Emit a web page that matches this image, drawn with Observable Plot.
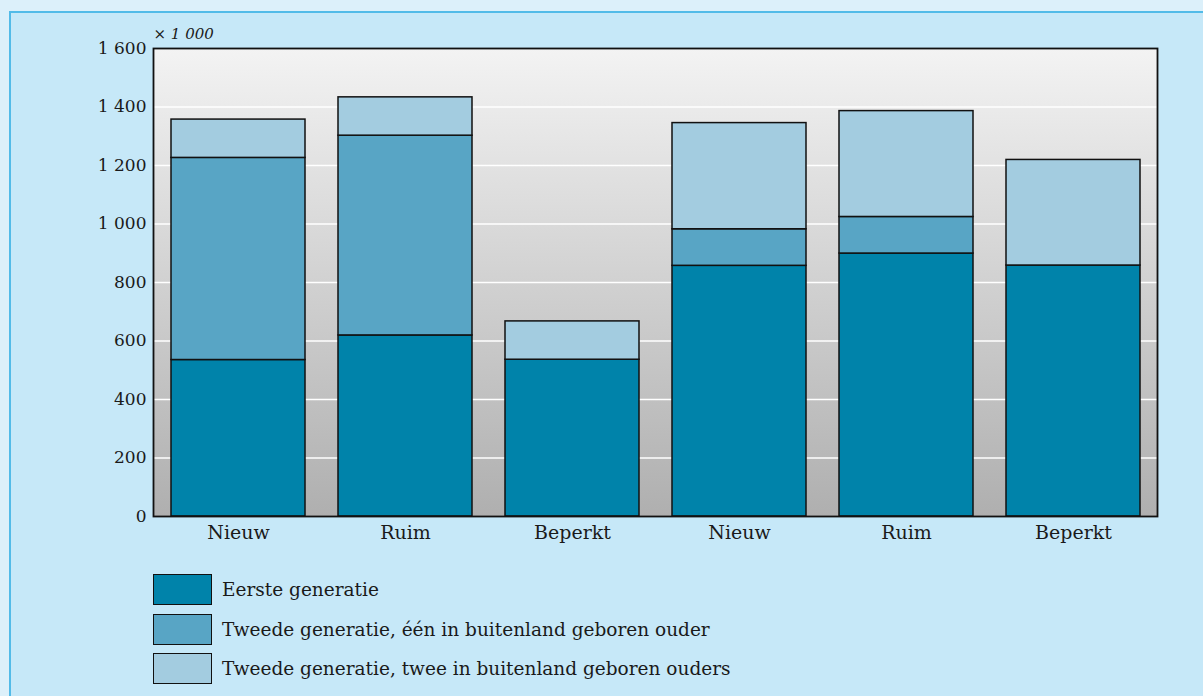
<!DOCTYPE html>
<html><head><meta charset="utf-8">
<script src="https://cdn.jsdelivr.net/npm/d3@7"></script>
<script src="https://cdn.jsdelivr.net/npm/@observablehq/plot@0.6"></script>
<style>
body{margin:0;background:#dcf0fa;width:1203px;height:696px;overflow:hidden;position:relative;font-family:"DejaVu Serif",serif;}
#box{position:absolute;left:9px;top:11px;width:1300px;height:800px;border:2px solid #52bbe8;background:#c6e8f8;}
#chart{position:absolute;left:0;top:0;}
#legend{position:absolute;left:153px;top:574px;}
.row{display:flex;align-items:center;height:31px;margin-bottom:8.5px;}
.sw{box-sizing:border-box;width:59px;height:31px;border:1.5px solid #111;margin-right:10px;}
.lab{font-size:18.5px;color:#1a1a1a;}
</style></head><body>
<div id="box"></div><div id="chart"></div><div id="legend"></div>
<script>
const categories = ["Nieuw","Ruim","Beperkt","Nieuw","Ruim","Beperkt"];
const series = ["Eerste generatie","Tweede generatie, één in buitenland geboren ouder","Tweede generatie, twee in buitenland geboren ouders"];
const eerste = [535, 619, 536, 857, 899, 858];
const tweedeEen = [691, 683, 0, 125, 125, 0];
const tweedeTwee = [131, 131, 131, 363, 362, 361];
const colors = ["#0083aa", "#58a5c5", "#a3cce0"];
const yTicks = [0, 200, 400, 600, 800, 1000, 1200, 1400, 1600];
const unitLabel = "× 1 000";

const rows = [];
[eerste, tweedeEen, tweedeTwee].forEach((vals, s) => vals.forEach((v, i) => {
  if (v > 0) rows.push({i, serie: series[s], v});
}));
const fmt = d => d3.format(",")(d).replace(/,/g, " ");

const svg = Plot.plot({
  width: 1203, height: 550,
  marginLeft: 153, marginRight: 46, marginTop: 48, marginBottom: 34,
  style: {background: "transparent", fontFamily: "'DejaVu Serif', serif", fontSize: "17px", color: "#1a1a1a"},
  x: {domain: d3.range(6), paddingInner: 0.2, paddingOuter: 0.1, axis: null},
  y: {domain: [0, 1600], axis: null},
  color: {domain: series, range: colors},
  marks: [
    Plot.frame({fill: "url(#bgGrad)"}),
    Plot.gridY({ticks: yTicks.slice(1, -1), stroke: "white", strokeOpacity: 1, strokeWidth: 1.5}),
    Plot.barY(rows, {x: "i", y: "v", fill: "serie", stroke: "#111", strokeWidth: 1.5}),
    Plot.frame({stroke: "#111", strokeWidth: 1.8}),
    Plot.axisY({ticks: yTicks, tickSize: 0, tickPadding: 7, tickFormat: fmt, label: null}),
    Plot.axisX({ticks: d3.range(6), tickSize: 0, tickPadding: 9, tickFormat: i => categories[i], label: null, fontSize: 19}),
    Plot.text([unitLabel], {text: d => d, frameAnchor: "top-left", dy: -20, textAnchor: "start", fontStyle: "italic", fontSize: 15})
  ]
});
const ns = "http://www.w3.org/2000/svg";
const defs = document.createElementNS(ns, "defs");
defs.innerHTML = '<linearGradient id="bgGrad" x1="0" y1="0" x2="0" y2="1"><stop offset="0" stop-color="#f3f3f3"/><stop offset="1" stop-color="#afafaf"/></linearGradient>';
svg.insertBefore(defs, svg.firstChild);
document.getElementById("chart").appendChild(svg);

const legend = document.getElementById("legend");
series.forEach((s, k) => {
  const row = document.createElement("div"); row.className = "row";
  const sw = document.createElement("div"); sw.className = "sw"; sw.style.background = colors[k];
  const lab = document.createElement("span"); lab.className = "lab"; lab.textContent = s;
  row.appendChild(sw); row.appendChild(lab); legend.appendChild(row);
});
</script>
</body></html>
